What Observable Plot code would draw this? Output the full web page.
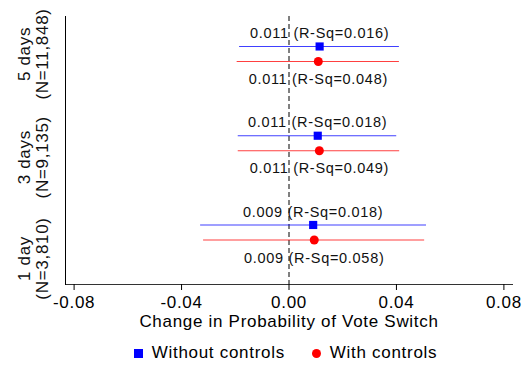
<!DOCTYPE html>
<html>
<head>
<meta charset="utf-8">
<script src="https://cdn.jsdelivr.net/npm/d3@7"></script>
<script src="https://cdn.jsdelivr.net/npm/@observablehq/plot@0.6"></script>
<style>
  body { margin: 0; background: #fff; font-family: "Liberation Sans", Arial, sans-serif; }
  #legend { display: flex; justify-content: center; align-items: center; margin-left: 65px; width: 441px; height: 32px; padding-top: 2px; font-size: 17px; letter-spacing: 0.7px; color: #000; }
  .item { display: flex; align-items: center; }
  .sw { display: inline-block; margin-right: 9px; }
</style>
</head>
<body>
<div id="chart"></div>
<div id="legend"></div>
<script>
// Data
const groups = ["1 day", "3 days", "5 days"];
const groupLabels = ["1 day\n(N=3,810)", "3 days\n(N=9,135)", "5 days\n(N=11,848)"];
const series = ["Without controls", "With controls"];
const seriesColors = ["#0000ff", "#ff0000"];
// estimates, lower and upper CI bounds, R-squared, per group (1 day, 3 days, 5 days)
const estWithout = [0.0090, 0.0107, 0.0114];
const loWithout  = [-0.0329, -0.0189, -0.0184];
const hiWithout  = [0.0512, 0.0401, 0.0411];
const r2Without  = [0.018, 0.018, 0.016];
const estWith = [0.0094, 0.0113, 0.0109];
const loWith  = [-0.0318, -0.0189, -0.0193];
const hiWith  = [0.0505, 0.0412, 0.0411];
const r2With  = [0.058, 0.049, 0.048];
const xTicks = [-0.08, -0.04, 0, 0.04, 0.08];

const rows = [];
groups.forEach((g, i) => {
  rows.push({group: g, gi: i + 1, series: series[0], est: estWithout[i], lo: loWithout[i], hi: hiWithout[i], r2: r2Without[i], off: 0.084});
  rows.push({group: g, gi: i + 1, series: series[1], est: estWith[i], lo: loWith[i], hi: hiWith[i], r2: r2With[i], off: -0.084});
});
const labelRows = groupLabels.map((t, i) => ({t, gi: i + 1}));
const labelShift = [26, 14, 0];
const fmt = d => `${d.est.toFixed(3)} (R-Sq=${d.r2.toFixed(3)})`;

const chart = Plot.plot({
  width: 522,
  height: 335,
  marginLeft: 65,
  marginRight: 10,
  marginTop: 16,
  marginBottom: 51,
  style: {fontFamily: "'Liberation Sans', Arial, sans-serif", fontSize: "17px", letterSpacing: "0.7px", color: "#000", background: "#fff", overflow: "visible"},
  x: {domain: [-0.0832, 0.0832]},
  y: {domain: [0.417, 3.42], axis: null},
  color: {domain: series, range: seriesColors},
  marks: [
    Plot.frame({anchor: "left", stroke: "#000"}),
    Plot.frame({anchor: "bottom", stroke: "#000", strokeOpacity: 0.8}),
    Plot.axisX({ticks: xTicks, tickFormat: d => d.toFixed(2), tickSize: 6, tickPadding: 5, fontSize: 17,
      label: "Change in Probability of Vote Switch", labelAnchor: "center", labelArrow: "none", labelOffset: 42}),
    Plot.ruleX([0], {stroke: "#000", strokeDasharray: "5,3", strokeWidth: 1}),
    Plot.ruleY(rows, {y: d => d.gi + d.off, x1: "lo", x2: "hi", stroke: "series", strokeWidth: 1.1, strokeOpacity: 0.75}),
    Plot.dot(rows.filter(d => d.series === series[0]), {x: "est", y: d => d.gi + d.off, fill: "series", symbol: "square", r: 4.6}),
    Plot.dot(rows.filter(d => d.series === series[1]), {x: "est", y: d => d.gi + d.off, fill: "series", symbol: "circle", r: 4.5}),
    Plot.text(rows.filter(d => d.series === series[0]), {x: "est", y: d => d.gi + d.off, text: fmt, dy: -13, fontSize: 14.5, fill: "#111"}),
    Plot.text(rows.filter(d => d.series === series[1]), {x: "est", y: d => d.gi + d.off, text: fmt, dy: 18, fontSize: 14.5, fill: "#111"}),
    ...labelRows.map((d, i) => Plot.text([d], {y: "gi", text: "t", frameAnchor: "left", textAnchor: "middle", dx: -32, dy: labelShift[i], rotate: -90, fontSize: 17, lineHeight: 1.06, fill: "#111"}))
  ]
});
document.getElementById("chart").appendChild(chart);

const legend = document.getElementById("legend");
series.forEach((s, i) => {
  const item = document.createElement("div");
  item.className = "item";
  item.style.marginLeft = i === 0 ? "0" : "27px";
  const sw = document.createElement("span");
  sw.className = "sw";
  sw.style.width = "9px";
  sw.style.height = "9px";
  sw.style.background = seriesColors[i];
  sw.style.borderRadius = i === 0 ? "0" : "50%";
  const tx = document.createElement("span");
  tx.textContent = s;
  item.appendChild(sw);
  item.appendChild(tx);
  legend.appendChild(item);
});
</script>
</body>
</html>
